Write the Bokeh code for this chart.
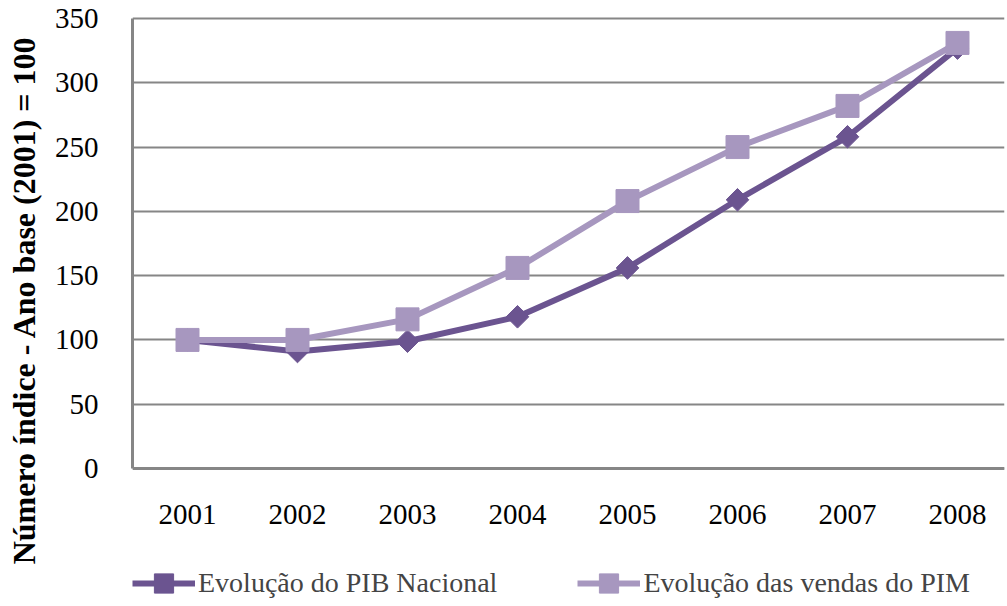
from bokeh.plotting import figure
from bokeh.models import Range1d, FixedTicker, Legend, LegendItem, Span, LinearAxis
from bokeh.embed import file_html
from bokeh.resources import INLINE

years = [2001, 2002, 2003, 2004, 2005, 2006, 2007, 2008]
pib = [100, 91, 99, 118, 156, 209, 258, 327]
pim = [100, 100, 116, 156, 208, 250, 282, 331]
y_ticks = [0, 50, 100, 150, 200, 250, 300, 350]
pib_name = "Evolução do PIB Nacional"
pim_name = "Evolução das vendas do PIM"
y_title = "Número índice - Ano base (2001) = 100"

PIB_C = "#6B5490"
PIM_C = "#A797BF"
GRID_C = "#868686"
FONT = "Liberation Serif"

W, H = 1005, 604
LEFT = 132
TOP_PX = 18            # pixel row of value 350
ZERO_PX = 468          # pixel row of value 0
FRAME_BOTTOM = 599     # frame runs to the bottom so the legend sits inside it
frame_w = W - LEFT - 1
px_per_unit = (ZERO_PX - TOP_PX) / 350.0
y_start = -(FRAME_BOTTOM - ZERO_PX) / px_per_unit
y_end = 350 + TOP_PX / px_per_unit

p = figure(width=W, height=H, output_backend="svg", toolbar_location=None,
           x_range=Range1d(2000.5, 2000.5 + frame_w / 110.0), y_range=Range1d(y_start, y_end),
           min_border_left=LEFT, min_border_right=1, min_border_top=0,
           min_border_bottom=H - FRAME_BOTTOM)
p.outline_line_color = None
p.background_fill_color = "white"
p.border_fill_color = "white"

p.xgrid.visible = False
p.ygrid.ticker = FixedTicker(ticks=y_ticks)
p.ygrid.grid_line_color = GRID_C
p.ygrid.grid_line_width = 2

p.yaxis.ticker = FixedTicker(ticks=y_ticks)
p.yaxis.bounds = (0, 350)
p.xaxis.ticker = FixedTicker(ticks=years)
p.xaxis.major_label_overrides = {y: str(y) for y in years}
for ax in (p.xaxis, p.yaxis):
    ax.major_tick_line_color = None
    ax.minor_tick_line_color = None
    ax.axis_line_color = GRID_C
    ax.axis_line_width = 3
    ax.major_label_text_font = FONT
    ax.major_label_text_font_size = "29px"
    ax.major_label_text_color = "black"
p.xaxis.axis_line_color = None
p.yaxis.major_label_standoff = 28
# x labels sit just under the zero line, i.e. inside the (taller) frame
p.xaxis.major_label_standoff = (515 - 17) - FRAME_BOTTOM

p.add_layout(Span(location=0, dimension="width", line_color=GRID_C, line_width=3))

# second left axis that only carries the y title
title_axis = LinearAxis(ticker=FixedTicker(ticks=[]),
                        axis_line_color=None, major_tick_line_color=None, minor_tick_line_color=None,
                        axis_label=y_title, axis_label_text_font=FONT, axis_label_text_font_size="32px",
                        axis_label_text_font_style="bold", axis_label_text_color="black",
                        axis_label_standoff=10)
p.add_layout(title_axis, "left")

r_pib = p.line(years, pib, line_color=PIB_C, line_width=6)
m_pib = p.scatter(years, pib, marker="square", angle=0.785398, size=16, fill_color=PIB_C, line_color=PIB_C)
r_pim = p.line(years, pim, line_color=PIM_C, line_width=6)
m_pim = p.scatter(years, pim, marker="square", size=23, fill_color=PIM_C, line_color=PIM_C)

legend = Legend(items=[LegendItem(label=pib_name, renderers=[r_pib, m_pib]),
                       LegendItem(label=pim_name, renderers=[r_pim, m_pim])],
                orientation="horizontal", location=(0, -8),
                padding=0, margin=0, spacing=80, glyph_width=63, glyph_height=48,
                label_standoff=3, label_text_font=FONT, label_text_font_size="28px",
                border_line_color=None, background_fill_alpha=0)
p.add_layout(legend, "center")

open("out.html", "w").write(file_html(p, INLINE))
